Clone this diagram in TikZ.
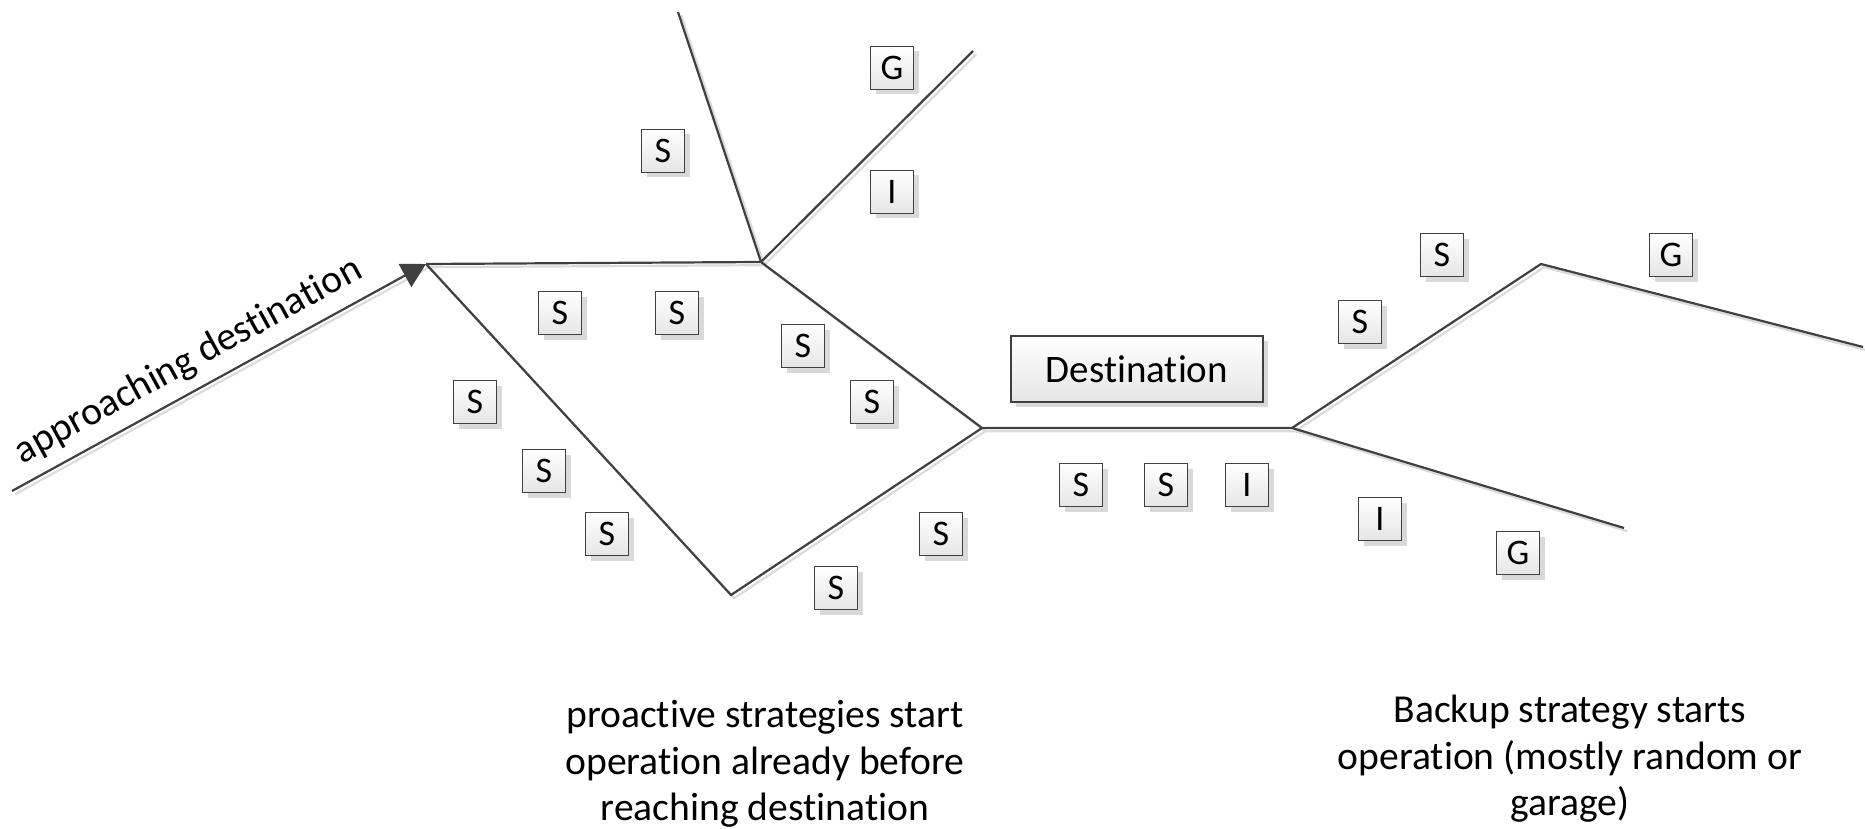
\documentclass[tikz,border=0pt]{standalone}
\usepackage{fontspec}
\setmainfont{Carlito}[Ligatures=NoCommon]
\usetikzlibrary{arrows.meta,shadows}
\tikzset{
  road/.style={draw=black!75, line width=1.1pt, line join=round},
  roadshade/.style={draw=black!14, line width=1.1pt},
  sig/.style={draw=black!75, line width=0.7pt, top color=white, bottom color=black!10,
    minimum width=21.5pt, minimum height=21.5pt, inner sep=0pt,
    font=\fontsize{18}{20}\selectfont,
    drop shadow={shadow xshift=2.5pt, shadow yshift=-2.5pt, fill=black!15, opacity=1}},
  note/.style={align=center, font=\fontsize{19.8}{23.2}\selectfont},
}
\begin{document}
\begin{tikzpicture}[x=0.5pt, y=-0.5pt]
    \useasboundingbox (0,0) rectangle (1865,829);
    % junctions of the roads
    \coordinate (start) at (12,491);
    \coordinate (jA) at (426,264);
    \coordinate (jB) at (761,262);
    \coordinate (topL) at (678,12);
    \coordinate (topR) at (973,51);
    \coordinate (jC) at (731,595);
    \coordinate (jD) at (982,428);
    \coordinate (jE) at (1292,428);
    \coordinate (jF) at (1541,264);
    \coordinate (endF) at (1863,347);
    \coordinate (endE) at (1624,528);
    % shade of the roads
    \begin{scope}[transform canvas={shift={(1.6pt,-1.6pt)}}]
        \draw[roadshade] (start) -- (jA) -- (jB) -- (jD) -- (jE) -- (jF) -- (endF);
        \draw[roadshade] (jA) -- (jC) -- (jD);
        \draw[roadshade] (jB) -- (topL);
        \draw[roadshade] (jB) -- (topR);
        \draw[roadshade] (jE) -- (endE);
    \end{scope}
    % roads
    \draw[road] (jA) -- (jB) -- (jD) -- (jE) -- (jF) -- (endF);
    \draw[road] (jA) -- (jC) -- (jD);
    \draw[road] (jB) -- (topL);
    \draw[road] (jB) -- (topR);
    \draw[road] (jE) -- (endE);
    \draw[road, -{Triangle[length=12pt,width=13pt]}] (start) -- (jA)
        node[pos=0.46, above=2pt, sloped, note] (appr) {approaching destination};
    % signs along the roads
    \foreach \t/\x/\y [count=\i] in {G/892/68, S/663/151, I/892/192,
        S/560/313, S/677/313, S/803/346, S/872/402,
        S/475/402, S/544/471, S/607/534, S/941/534, S/836/588,
        S/1081/485, S/1166/485, I/1247/485,
        S/1442/255, G/1671/255, S/1360/322, I/1380/519, G/1518/553}{
        \node[sig] (sig\i) at (\x,\y) {\t};
    }
    \node[sig, minimum width=126pt, minimum height=33pt, font=\fontsize{19.5}{22}\selectfont] (dest) at (1137,369) {Destination};
    % explanations
    \node[note] (proactive) at (765,764) {proactive strategies start\\operation already before\\reaching destination};
    \node[note] (backup) at (1570,759) {Backup strategy starts\\operation (mostly random or\\garage)};
\end{tikzpicture}
\end{document}
